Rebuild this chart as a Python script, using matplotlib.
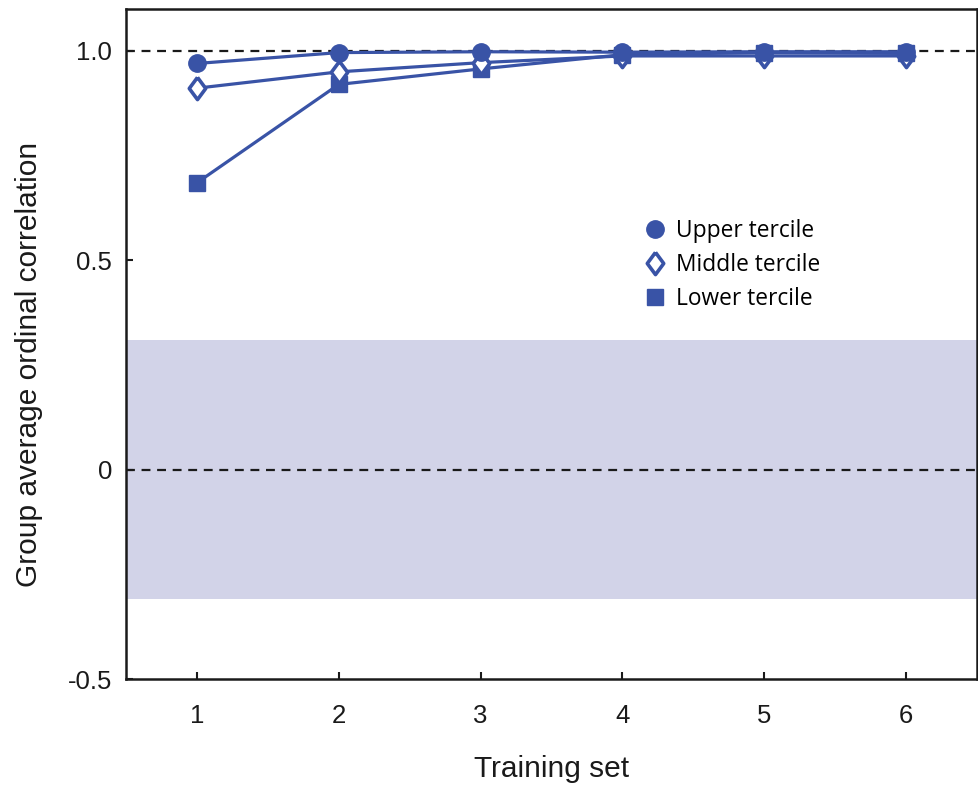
import matplotlib.pyplot as plt
from matplotlib.lines import Line2D

plt.rcParams['font.family'] = ['Liberation Sans', 'DejaVu Sans']

# data
training_set = [1, 2, 3, 4, 5, 6]
upper = [0.970, 0.996, 0.998, 0.997, 0.998, 0.998]
middle = [0.911, 0.950, 0.972, 0.988, 0.988, 0.988]
lower = [0.685, 0.920, 0.957, 0.991, 0.996, 0.994]
band = [-0.31, 0.31]

blue = '#3953a6'
diamond = [(0, 1), (0.74, 0), (0, -1), (-0.74, 0), (0, 1)]

fig = plt.figure(figsize=(9.79, 7.86), dpi=100)
ax = fig.add_axes([0.1287, 0.1361, 0.8693, 0.8524])

ax.axhspan(band[0], band[1], color='#d2d3e8', lw=0, zorder=0)
ax.axhline(1.0, color='#1a1a1a', ls=(0, (4, 3)), lw=1.6, zorder=1)
ax.axhline(0.0, color='#1a1a1a', ls=(0, (4, 3)), lw=1.6, zorder=1)

# draw lower first so upper sits on top
ax.plot(training_set, lower, color=blue, lw=2.3, marker='s', ms=11.5,
        mfc=blue, mec=blue, zorder=3)
ax.plot(training_set, middle, color=blue, lw=2.3, marker=diamond, ms=16,
        mfc='white', mec=blue, mew=2.6, zorder=4)
ax.plot(training_set, upper, color=blue, lw=2.3, marker='o', ms=12.5,
        mfc=blue, mec=blue, zorder=5)

ax.set_xlim(0.5, 6.5)
ax.set_ylim(-0.5, 1.1)
ax.set_xticks(training_set)
ax.set_yticks([-0.5, 0, 0.5, 1.0])
ax.set_yticklabels(['-0.5', '0', '0.5', '1.0'])
ax.tick_params(direction='in', length=5, width=1.5, labelsize=18.5, colors='#1a1a1a')
ax.tick_params(axis='x', pad=18)
ax.tick_params(axis='y', pad=10)
for s in ax.spines.values():
    s.set_linewidth(1.8)
    s.set_color('#1a1a1a')

ax.set_xlabel('Training set', fontsize=21.5, color='#1a1a1a')
ax.xaxis.set_label_coords(0.5, -0.114)
ax.set_ylabel('Group average ordinal correlation', fontsize=21.5, color='#1a1a1a')
ax.yaxis.set_label_coords(-0.098, 0.469)

handles = [
    Line2D([], [], ls='none', marker='o', ms=12.5, mfc=blue, mec=blue),
    Line2D([], [], ls='none', marker=diamond, ms=16, mfc='white', mec=blue, mew=2.6),
    Line2D([], [], ls='none', marker='s', ms=11.5, mfc=blue, mec=blue),
]
ax.legend(handles, ['Upper tercile', 'Middle tercile', 'Lower tercile'],
          loc='upper left', bbox_to_anchor=(0.582, 0.7175), frameon=False,
          prop={'family': 'Open Sans', 'size': 16.4}, handletextpad=0.3,
          labelspacing=0.45, handlelength=1.2)

fig.savefig('out.png', dpi=100)
